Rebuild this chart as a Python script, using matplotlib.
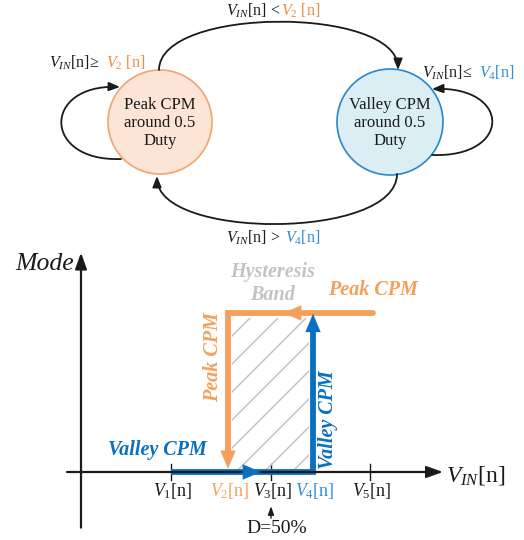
import matplotlib
matplotlib.use("Agg")
import matplotlib.pyplot as plt
import numpy as np
from matplotlib.patches import Circle, Rectangle, FancyArrowPatch
from matplotlib.path import Path
from matplotlib.offsetbox import TextArea, HPacker, AnnotationBbox

plt.rcParams["font.family"] = ["Liberation Serif", "DejaVu Serif"]
plt.rcParams["mathtext.fontset"] = "custom"
plt.rcParams["mathtext.rm"] = "Liberation Serif"
plt.rcParams["mathtext.it"] = "Liberation Serif:italic"
plt.rcParams["mathtext.bf"] = "Liberation Serif:bold"

INK = "#1a1a1a"
ORANGE = "#f5a05a"
ORANGE_TXT = "#ee8a3e"
BLUE = "#0a70c0"
BLUE_TXT = "#2e8bd2"
GREY = "#c3c3c3"

# ---------- data ----------
# state diagram (pixel layout of the two mode bubbles)
state_names = ["Peak CPM\naround 0.5\nDuty", "Valley CPM\naround 0.5\nDuty"]
state_xy = [(160, 122), (390, 122)]
state_r = [52, 53]
state_fill = ["#fce5d6", "#dbeef4"]
state_edge = ["#f3a46c", "#2a86c8"]

# hysteresis plot: input voltage thresholds and mode levels
v_names = ["$V_1$[n]", "$V_2$[n]", "$V_3$[n]", "$V_4$[n]", "$V_5$[n]"]
v_values = [0.90, 1.47, 1.90, 2.32, 2.89]
v_colors = [INK, ORANGE, INK, BLUE_TXT, INK]
v_ticked = [True, False, True, False, True]
mode_valley = 0.0
mode_peak = 1.0
peak_start = 2.92      # right end of the peak-CPM branch
d50_value = 1.90       # D = 50% sits at V3


def rich(ax, x, y, parts, size, sep=3):
    boxes = [TextArea(s, textprops=dict(color=c, fontsize=size)) for s, c in parts]
    pack = HPacker(children=boxes, align="baseline", pad=0, sep=sep)
    ab = AnnotationBbox(pack, (x, y), frameon=False, box_alignment=(0.5, 0.5),
                        pad=0, xycoords="data")
    ax.add_artist(ab)


def curve(ax, pts, **kw):
    codes = [Path.MOVETO, Path.CURVE4, Path.CURVE4, Path.CURVE4]
    p = FancyArrowPatch(path=Path(pts, codes), arrowstyle="-|>,head_length=0.55,head_width=0.22",
                        mutation_scale=12, color=INK, lw=1.3, **kw)
    ax.add_patch(p)


fig = plt.figure(figsize=(5.24, 5.40), dpi=100)

# ---------- state diagram ----------
top = fig.add_axes([0, 0, 1, 1])
top.set_xlim(0, 524)
top.set_ylim(540, 0)
top.axis("off")

for name, xy, r, fc, ec in zip(state_names, state_xy, state_r, state_fill, state_edge):
    top.add_patch(Circle(xy, r, facecolor=fc, edgecolor=ec, lw=1.2))
    top.text(xy[0], xy[1] + 1, name, ha="center", va="center", fontsize=12,
             color=INK, linespacing=1.15)

(px, py), (vx, vy) = state_xy
curve(top, [(px - 1, py - 52), (px - 1, py - 116), (vx + 8, py - 116), (vx + 8, py - 52)])
curve(top, [(vx + 7, py + 52), (vx + 7, py + 118), (px - 3, py + 118), (px - 3, py + 54)])
curve(top, [(px - 39, py + 37), (42, py + 40), (42, py - 38), (px - 40, py - 35)])
curve(top, [(vx + 42, py + 33), (512, py + 36), (512, py - 36), (vx + 42, py - 33)])

rich(top, 273, 11, [("$V_{IN}$[n] <", INK), ("$V_2$ [n]", ORANGE_TXT)], 11.5, sep=1)
rich(top, 97, 63, [("$V_{IN}$[n]≥", INK), ("$V_2$ [n]", ORANGE_TXT)], 11.5, sep=5)
rich(top, 468, 73, [("$V_{IN}$[n]≤", INK), ("$V_4$[n]", BLUE_TXT)], 11.5, sep=5)
rich(top, 273, 238, [("$V_{IN}$[n] >", INK), ("$V_4$[n]", BLUE_TXT)], 11.5, sep=4)

# ---------- hysteresis plot ----------
ax = fig.add_axes([0, 0, 1, 295 / 540])
ax.set_xlim(-0.81, 4.43)
ax.set_ylim(-0.4277, 1.4277)
ax.axis("off")
ax.patch.set_alpha(0)

axis_arrow = dict(arrowstyle="-|>,head_length=0.7,head_width=0.25", color=INK,
                  lw=1.6, mutation_scale=14, shrinkA=0, shrinkB=0)
ax.annotate("", xy=(3.62, 0), xytext=(-0.14, 0), arrowprops=axis_arrow)
ax.annotate("", xy=(0, 1.38), xytext=(0, -0.35), arrowprops=axis_arrow)
ax.text(-0.36, 1.31, "Mode", fontsize=18.5, style="italic", color=INK,
        ha="center", va="center")
ax.text(3.65, -0.02, "$V_{IN}$[n]", fontsize=17, color=INK, ha="left", va="center")

for name, v, c, t in zip(v_names, v_values, v_colors, v_ticked):
    if t:
        ax.plot([v, v], [-0.05, 0.05], color=INK, lw=1.0)
    ax.text(v + 0.02, -0.12, name, fontsize=13, color=c, ha="center", va="center")

ax.annotate("", xy=(d50_value, -0.215), xytext=(d50_value, -0.29),
            arrowprops=dict(arrowstyle="-|>,head_length=0.5,head_width=0.18",
                            color=INK, lw=1.0, mutation_scale=10,
                            shrinkA=0, shrinkB=0))
ax.text(d50_value + 0.06, -0.355, "D=50%", fontsize=14, color=INK,
        ha="center", va="center")

v2, v4 = v_values[1], v_values[3]

# hatched hysteresis band, 45 degree lines on screen
clip = Rectangle((v2 + 0.04, mode_valley + 0.02), v4 - v2 - 0.08, 0.95,
                 transform=ax.transData, facecolor="none", edgecolor="none")
ax.add_patch(clip)
slope = 100 / 159
xs = np.array([v2 - 0.2, v4 + 0.2])
for off in np.arange(-1.6, 1.2, 0.28):
    ln, = ax.plot(xs, (xs - v2 - off) * slope, color=GREY, lw=1.1)
    ln.set_clip_path(clip)

thick = dict(lw=4.2, solid_joinstyle="miter")
head = "-|>,head_length=1.0,head_width=0.42"


def head_only(tip, tail, color):
    ax.annotate("", xy=tip, xytext=tail,
                arrowprops=dict(arrowstyle=head, color=color, lw=0.1, mutation_scale=13,
                                shrinkA=0, shrinkB=0))


# valley-CPM branch
ax.plot([v_values[0], v4, v4], [mode_valley, mode_valley, mode_peak - 0.08],
        color=BLUE, solid_capstyle="butt", **thick)
head_only((1.80, mode_valley), (1.40, mode_valley), BLUE)

# peak-CPM branch
ax.plot([peak_start, v2, v2], [mode_peak, mode_peak, mode_valley + 0.1],
        color=ORANGE, solid_capstyle="round", **thick)
head_only((2.02, mode_peak), (2.40, mode_peak), ORANGE)
head_only((v2, mode_valley + 0.02), (v2, mode_valley + 0.3), ORANGE)
head_only((v4, mode_peak - 0.005), (v4, mode_peak - 0.3), BLUE)

bold_it = dict(fontsize=14.5, fontweight="bold", style="italic", ha="center", va="center")
ax.text(1.92, 1.258, "Hysteresis", color=GREY, **bold_it)
ax.text(1.92, 1.113, "Band", color=GREY, **bold_it)
ax.text(2.92, 1.145, "Peak CPM", color=ORANGE, **bold_it)
ax.text(1.32, 0.723, "Peak CPM", color=ORANGE, rotation=90, **bold_it)
ax.text(2.47, 0.327, "Valley CPM", color=BLUE, rotation=90, **bold_it)
ax.text(0.76, 0.138, "Valley CPM", color=BLUE, **bold_it)

fig.savefig("out.png", dpi=100)
